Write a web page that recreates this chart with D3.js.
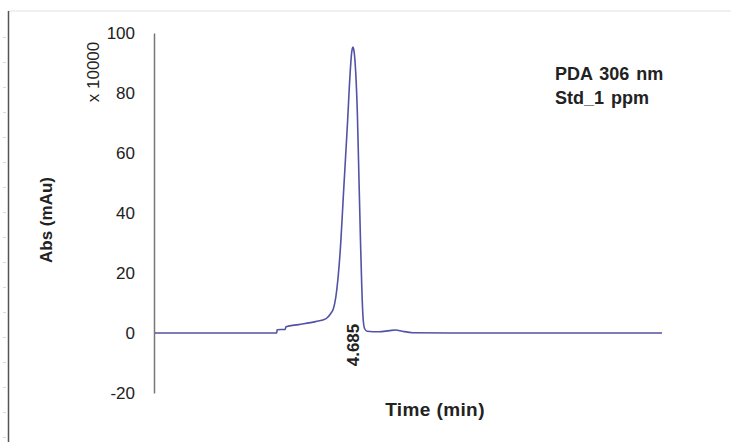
<!DOCTYPE html>
<html>
<head>
<meta charset="utf-8">
<script src="https://cdn.jsdelivr.net/npm/d3@7"></script>
<style>
  html, body { margin: 0; padding: 0; background: #fff; }
  svg { display: block; font-family: "Liberation Sans", Arial, sans-serif; }
</style>
</head>
<body>
<svg id="chart" width="731" height="442"></svg>
<script>
// chromatogram trace (time in min, abs in x10000 mAu)
const time = [0, 2.88, 2.89, 3.08, 3.10, 3.4, 3.8, 4.05, 4.16, 4.22, 4.28, 4.38, 4.47, 4.56, 4.62, 4.655, 4.685,
  4.715, 4.75, 4.79, 4.83, 4.865, 4.895, 4.925, 4.96, 5.02, 5.3, 5.55, 5.7, 5.85, 6.1, 7, 9, 12];
const absorbance = [0, 0, 1.1, 1.2, 2.1, 2.8, 3.8, 4.8, 6.5, 8, 12, 26.6, 48.7, 71, 87, 93.5, 95.3,
  93.5, 87, 73, 50, 30, 15, 5, 1.5, 0.6, 0.4, 0.8, 1.0, 0.6, 0.1, 0, 0, 0];
const yTicks = [-20, 0, 20, 40, 60, 80, 100];
const peakLabels = [{ t: 4.685, text: "4.685" }];
const noteLines = ["PDA 306 nm", "Std_1 ppm"];

const width = 731, height = 442;
const svg = d3.select("#chart");

// page frame (left rule + light top edge)
svg.append("line").attr("x1", 8).attr("x2", width).attr("y1", 11).attr("y2", 11)
  .attr("stroke", "#e2e2e2").attr("stroke-width", 1);
svg.append("line").attr("x1", 8.5).attr("x2", 8.5).attr("y1", 11).attr("y2", height)
  .attr("stroke", "#555").attr("stroke-width", 1.5);
svg.append("g").selectAll("line")
  .data(d3.range(37, height, 25))
  .join("line")
  .attr("x1", 3).attr("x2", 6).attr("y1", d => d + 0.5).attr("y2", d => d + 0.5)
  .attr("stroke", "#d8d8d8");

const x = d3.scaleLinear().domain([0, 12]).range([155, 662]);
const y = d3.scaleLinear().domain([-20, 100]).range([393, 33]);

// y axis: plain line, labels only (hyphen minus like the original)
const yAxis = svg.append("g").attr("transform", "translate(154,0)")
  .call(d3.axisLeft(y).tickValues(yTicks).tickSize(0).tickPadding(19).tickFormat(d => String(d)));
yAxis.select(".domain").attr("stroke", "#777").attr("stroke-width", 1.5);
yAxis.selectAll("text")
  .attr("font-size", 17)
  .attr("font-family", "Liberation Sans, Arial, sans-serif")
  .attr("fill", "#222");

svg.append("text")
  .attr("transform", "translate(99,72) rotate(-90)")
  .attr("text-anchor", "middle")
  .attr("font-size", 17)
  .attr("fill", "#222")
  .text("x 10000");

svg.append("text")
  .attr("transform", "translate(52,220) rotate(-90)")
  .attr("text-anchor", "middle")
  .attr("font-size", 17)
  .attr("font-weight", "bold")
  .attr("fill", "#222")
  .text("Abs (mAu)");

svg.append("text")
  .attr("x", 435).attr("y", 416)
  .attr("text-anchor", "middle")
  .attr("font-size", 19)
  .attr("letter-spacing", 0.4)
  .attr("font-weight", "bold")
  .attr("fill", "#222")
  .text("Time (min)");

// trace
const pts = time.map((t, i) => [t, absorbance[i]]);
const line = d3.line()
  .x(d => x(d[0]))
  .y(d => y(d[1]))
  .curve(d3.curveMonotoneX);

svg.append("path")
  .datum(pts)
  .attr("fill", "none")
  .attr("stroke", "#5252a6")
  .attr("stroke-width", 1.6)
  .attr("d", line);

// retention time label
svg.selectAll(".peak")
  .data(peakLabels)
  .join("text")
  .attr("class", "peak")
  .attr("transform", d => `translate(${x(d.t) + 6},345) rotate(-90)`)
  .attr("text-anchor", "middle")
  .attr("font-size", 17)
  .attr("font-weight", "bold")
  .attr("fill", "#222")
  .text(d => d.text);

// annotation
svg.append("g").selectAll("text")
  .data(noteLines)
  .join("text")
  .attr("x", 555).attr("y", (d, i) => 80 + i * 24)
  .attr("font-size", 18)
  .attr("word-spacing", 2)
  .attr("font-weight", "bold")
  .attr("fill", "#222")
  .text(d => d);
</script>
</body>
</html>
